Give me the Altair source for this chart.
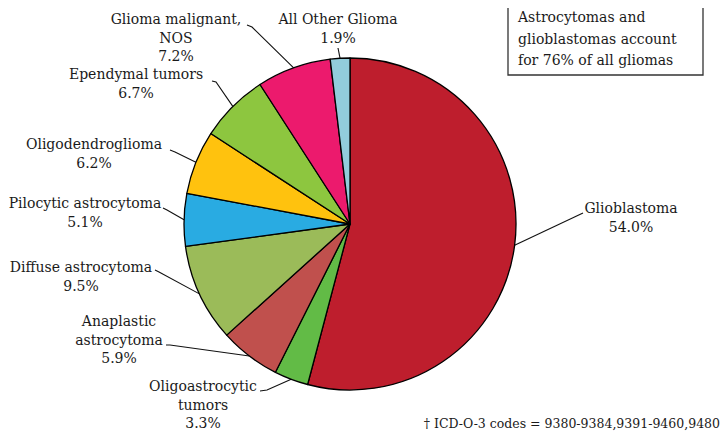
import altair as alt
import pandas as pd
import numpy as np

# ---------------- data ----------------
categories = ["Glioblastoma", "Oligoastrocytic tumors", "Anaplastic astrocytoma",
              "Diffuse astrocytoma", "Pilocytic astrocytoma", "Oligodendroglioma",
              "Ependymal tumors", "Glioma malignant, NOS", "All Other Glioma"]
percents = [54.0, 3.3, 5.9, 9.5, 5.1, 6.2, 6.7, 7.2, 1.9]
label_names = [["Glioblastoma"], ["Oligoastrocytic", "tumors"], ["Anaplastic", "astrocytoma"],
               ["Diffuse astrocytoma"], ["Pilocytic astrocytoma"], ["Oligodendroglioma"],
               ["Ependymal tumors"], ["Glioma malignant,", "NOS"], ["All Other Glioma"]]
colors = ["#BE1E2D", "#62BB46", "#C0504D", "#9BBB59", "#29ABE2", "#FFC20E",
          "#8DC63F", "#EC1A6D", "#92CDDC"]
box_lines = ["Astrocytomas and", "glioblastomas account", "for 76% of all gliomas"]
footnote = "\u2020 ICD-O-3 codes = 9380-9384,9391-9460,9480"

# ---------------- layout (image pixel coordinates) ----------------
W, H, M = 712, 424, 8
CX, CY, R = 350, 224, 166
LH = 18.5
FONT = "DejaVu Serif"
FS = 14
# label anchor: centre x, first-line middle y
label_anchor = [(631, 209), (203, 387), (119, 322), (81, 268), (85, 204),
                (94, 145), (136, 75), (176, 20), (338, 20)]
# leader points on the label side (start, optional elbow)
leader_pts = [[(583, 213)], [(260, 391), (267, 390)], [(166, 345), (170, 345)],
              [(155, 270), (159, 272)], [(163, 208), (167, 210)],
              [(170, 150), (175, 152)], [(212, 81), (216, 82)],
              [(247, 25), (252, 27)], [(338, 48)]]
BOX = (508, 2, 703, 75)
box_x, box_y0, box_lh = 518, 18, 21.5

xs = alt.Scale(domain=[M, M + W], nice=False, zero=False)
ys = alt.Scale(domain=[M, M + H], nice=False, zero=False, reverse=True)

# ---------------- pie ----------------
n = len(categories)
pie_df = pd.DataFrame({"category": categories, "value": percents, "idx": list(range(n))})
arc = alt.Chart(pie_df).mark_arc(outerRadius=R, stroke="black", strokeWidth=1.3,
                                  strokeJoin="round").encode(
    theta=alt.Theta("value:Q", stack=True),
    order=alt.Order("idx:Q"),
    color=alt.Color("category:N", scale=alt.Scale(domain=categories, range=colors), legend=None),
    x=alt.value(CX - M), y=alt.value(CY - M),
)

# ---------------- leader lines ----------------
vals = np.array(percents)
cum = np.cumsum(vals)
mid = (cum - vals / 2) / vals.sum() * 2 * np.pi
rows = []
for i in range(n):
    pts = list(leader_pts[i]) + [(CX + R * np.sin(mid[i]), CY - R * np.cos(mid[i]))]
    for j, (px, py) in enumerate(pts):
        rows.append({"key": categories[i], "seq": j, "x": px, "y": py})
lead_df = pd.DataFrame(rows)
leaders = alt.Chart(lead_df).mark_line(color="#111", strokeWidth=1.1).encode(
    x=alt.X("x:Q", scale=xs, axis=None),
    y=alt.Y("y:Q", scale=ys, axis=None),
    detail="key:N",
    order="seq:Q",
)

# ---------------- labels ----------------
trows = []
for i in range(n):
    lines = label_names[i] + [f"{percents[i]:.1f}%"]
    ax, ay = label_anchor[i]
    for j, t in enumerate(lines):
        trows.append({"x": ax, "y": ay + j * LH, "t": t})
txt_df = pd.DataFrame(trows)
labels = alt.Chart(txt_df).mark_text(font=FONT, fontSize=FS, color="#1a1a1a",
                                     align="center", baseline="middle").encode(
    x=alt.X("x:Q", scale=xs, axis=None),
    y=alt.Y("y:Q", scale=ys, axis=None),
    text="t:N",
)

# ---------------- annotation box ----------------
box_df = pd.DataFrame([{"x": BOX[0], "x2": BOX[2], "y": BOX[1], "y2": BOX[3]}])
box = alt.Chart(box_df).mark_rect(fill="white", stroke="#333", strokeWidth=1.3).encode(
    x=alt.X("x:Q", scale=xs, axis=None), x2="x2:Q",
    y=alt.Y("y:Q", scale=ys, axis=None), y2="y2:Q",
)
bt_df = pd.DataFrame({"x": [box_x] * 3, "y": [box_y0 + k * box_lh for k in range(3)], "t": box_lines})
box_text = alt.Chart(bt_df).mark_text(font=FONT, fontSize=FS, color="#1a1a1a",
                                      align="left", baseline="middle").encode(
    x=alt.X("x:Q", scale=xs, axis=None),
    y=alt.Y("y:Q", scale=ys, axis=None),
    text="t:N",
)

# ---------------- footnote ----------------
fn_df = pd.DataFrame([{"x": 720, "y": 424, "t": footnote}])
foot = alt.Chart(fn_df).mark_text(font=FONT, fontSize=12.5, color="#1a1a1a",
                                  align="right", baseline="middle").encode(
    x=alt.X("x:Q", scale=xs, axis=None),
    y=alt.Y("y:Q", scale=ys, axis=None),
    text="t:N",
)

chart = alt.layer(leaders, arc, labels, box, box_text, foot).properties(
    width=W, height=H, padding=0, autosize=alt.AutoSizeParams(type="none"),
    background="white",
).configure_view(stroke=None)

chart.save("out.html", embed_options={"renderer": "svg", "actions": False})
